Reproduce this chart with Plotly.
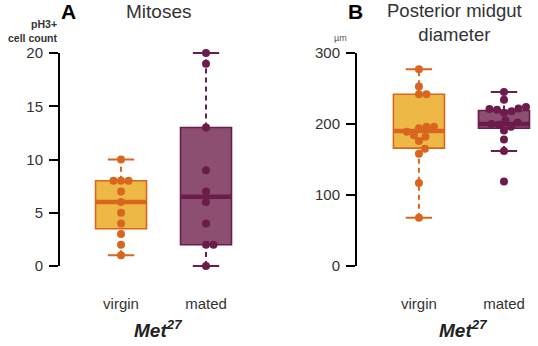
import plotly.graph_objects as go

# --- data ---
groups = ["virgin", "mated"]

mitoses_virgin = [1, 2, 3, 4, 5, 6, 7, 8, 8, 8, 10]
mitoses_mated = [0, 2, 2, 4, 6, 7, 9, 13, 19, 20]
mitoses_q1 = [3.5, 2]
mitoses_med = [6, 6.5]
mitoses_q3 = [8, 13]
mitoses_lo = [1, 0]
mitoses_hi = [10, 20]

diam_virgin = [68, 117, 158, 165, 176, 182, 184, 189, 194, 196, 196, 242, 242, 253, 277]
diam_mated = [119, 162, 178, 191, 196, 199, 200, 202, 205, 216, 218, 220, 221, 222, 224, 234, 245]
diam_q1 = [166, 194]
diam_med = [190, 200]
diam_q3 = [242, 219]
diam_lo = [68, 162]
diam_hi = [277, 245]

fill = ["#EDB845", "#8C4F72"]
edge = ["#D9661F", "#6B1C4B"]

W, H = 538, 346
PX_X = 85.0  # px per category unit
DOT = 8
FONT = "Liberation Sans, Arial, sans-serif"


def swarm(values, px_per_unit):
    # simple deterministic beeswarm: keep dots from overlapping
    placed = []
    out = []
    for v in values:
        y = v * px_per_unit
        k = 0
        while True:
            c = 0 if k == 0 else (((k + 1) // 2) * 0.5) * (1 if k % 2 else -1)
            if all((c - px) ** 2 + (y - py) ** 2 >= (DOT - 0.5) ** 2 for px, py in placed):
                break
            k += 1
        placed.append((c, y))
        out.append(c / PX_X)
    return out


fig = go.Figure()


def panel(xa, ya, data, q1, med, q3, lo, hi, px_per_unit):
    for i, vals in enumerate(data):
        fig.add_trace(go.Box(
            x=[i], q1=[q1[i]], median=[med[i]], q3=[q3[i]],
            lowerfence=[q1[i]], upperfence=[q3[i]],
            width=0.6, whiskerwidth=0, boxpoints=False,
            fillcolor=fill[i], line=dict(color=edge[i], width=1.6),
            xaxis=xa, yaxis=ya, showlegend=False, hoverinfo="skip"))
        # dashed whiskers
        for a, b in [(q3[i], hi[i]), (lo[i], q1[i])]:
            fig.add_trace(go.Scatter(
                x=[i, i], y=[a, b], mode="lines",
                line=dict(color=edge[i], width=2, dash="5px,4px"),
                xaxis=xa, yaxis=ya, showlegend=False, cliponaxis=False))
        # caps
        for v in (lo[i], hi[i]):
            fig.add_trace(go.Scatter(
                x=[i - 0.155, i + 0.155], y=[v, v], mode="lines",
                line=dict(color=edge[i], width=2),
                xaxis=xa, yaxis=ya, showlegend=False, cliponaxis=False))
        # thick median
        fig.add_trace(go.Scatter(
            x=[i - 0.3, i + 0.3], y=[med[i], med[i]], mode="lines",
            line=dict(color=edge[i], width=4.5),
            xaxis=xa, yaxis=ya, showlegend=False))
        vs = sorted(vals)
        offs = swarm(vs, px_per_unit)
        fig.add_trace(go.Scatter(
            x=[i + o for o in offs], y=vs, mode="markers",
            marker=dict(color=edge[i], size=DOT),
            xaxis=xa, yaxis=ya, showlegend=False, cliponaxis=False))


panel("x", "y", [mitoses_virgin, mitoses_mated], mitoses_q1, mitoses_med,
      mitoses_q3, mitoses_lo, mitoses_hi, 10.65)
panel("x2", "y2", [diam_virgin, diam_mated], diam_q1, diam_med,
      diam_q3, diam_lo, diam_hi, 0.71)

ydom = [(H - 274.5) / H, (H - 44.5) / H]
font_tick = dict(family=FONT, size=15, color="#333")

yax = dict(domain=ydom, showgrid=False, zeroline=False, showline=False,
           ticks="outside", ticklen=9, tickwidth=2, tickcolor="black",
           tickfont=font_tick, ticklabelstandoff=3, automargin=False, fixedrange=True)
xax = dict(showgrid=False, zeroline=False, showline=False, ticks="",
           tickvals=[0, 1], ticktext=groups, automargin=False,
           tickfont=dict(family=FONT, size=15, color="#333"),
           ticklabelstandoff=18)

fig.update_layout(
    width=W, height=H, margin=dict(l=0, r=0, t=0, b=0),
    paper_bgcolor="white", plot_bgcolor="white",
    font=dict(family=FONT),
    xaxis=dict(xax, domain=[59 / W, 240 / W], range=[-0.73, 1.4], anchor="y"),
    xaxis2=dict(xax, domain=[356 / W, 1.0], range=[-0.74, 1.4], anchor="y2"),
    yaxis=dict(yax, range=[-0.8, 20.8], tickvals=[0, 5, 10, 15, 20], anchor="x"),
    yaxis2=dict(yax, range=[-12, 312], tickvals=[0, 100, 200, 300], anchor="x2"),
)

# axis lines only spanning the data range
fig.add_shape(type="line", xref="x domain", yref="y", x0=0, x1=0, y0=0, y1=20,
              line=dict(color="black", width=2))
fig.add_shape(type="line", xref="x2 domain", yref="y2", x0=0, x1=0, y0=0, y1=300,
              line=dict(color="black", width=2))


def note(text, x, y, size, color="#333", xanchor="center", align="center"):
    fig.add_annotation(text=text, xref="paper", yref="paper", x=x / W, y=1 - y / H,
                       xanchor=xanchor, yanchor="middle", align=align, showarrow=False,
                       font=dict(size=size, color=color, family=FONT))


note("<b>A</b>", 68, 12, 21, "black")
note("Mitoses", 158, 12, 19)
note("<b>B</b>", 355, 12, 21, "black")
note("Posterior midgut<br>diameter", 454, 22, 18.5)
note("<b>pH3+</b><br><b>cell count</b>", 60, 31, 10.5, xanchor="right", align="right")
note("µm", 340, 38, 9, "#555")
note("<b><i>Met</i></b><sup><b><i>27</i></b></sup>", 158, 329, 19, "#222")
note("<b><i>Met</i></b><sup><b><i>27</i></b></sup>", 463, 329, 19, "#222")

fig.write_html("out.html", post_script="document.body.style.margin='0';",
               config={"displayModeBar": False})
